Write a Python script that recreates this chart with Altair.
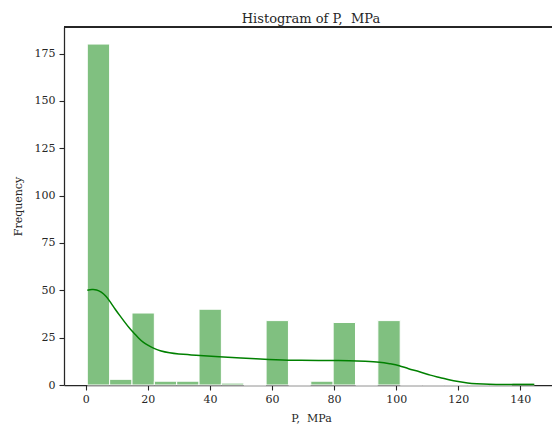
import altair as alt
import pandas as pd

# Histogram bins (P, MPa) and counts
bin_start = [0.5, 7.7, 14.9, 22.1, 29.3, 36.5, 43.7, 50.9, 58.1, 65.3,
             72.5, 79.7, 86.9, 94.1, 101.3, 108.5, 115.7, 122.9, 130.1, 137.3]
bin_end = [7.7, 14.9, 22.1, 29.3, 36.5, 43.7, 50.9, 58.1, 65.3, 72.5,
           79.7, 86.9, 94.1, 101.3, 108.5, 115.7, 122.9, 130.1, 137.3, 144.5]
counts = [180, 3, 38, 2, 2, 40, 1, 0, 34, 0,
          2, 33, 0, 34, 0, 0, 0, 0, 0, 1]

# KDE curve (scaled to counts)
kde_x = [0.5, 2, 3.5, 5, 6.5, 8, 9.5, 11, 12.5, 14, 15.5, 17, 18.5, 20, 22, 24,
         27, 30, 34, 38, 43, 50, 59, 67, 75, 80, 85, 90, 94.6, 98, 101, 104,
         107.5, 111, 114, 117, 120, 123, 126, 130, 135, 140, 144.5]
kde_y = [50, 50.4, 50.2, 49, 46.8, 43.6, 40, 36.6, 33.3, 30.2, 27.5, 24.8, 22.6,
         21, 19.3, 18.1, 17, 16.4, 15.9, 15.4, 14.9, 14.2, 13.5, 13.1, 13.0, 12.9,
         12.8, 12.5, 12.0, 11.2, 10.2, 8.6, 7.0, 5.2, 4.0, 2.8, 1.8, 1.1, 0.7, 0.4,
         0.3, 0.3, 0.3]

x_ticks = [0, 20, 40, 60, 80, 100, 120, 140]
y_ticks = [0, 25, 50, 75, 100, 125, 150, 175]

hist_df = pd.DataFrame({"start": bin_start, "end": bin_end, "count": counts})
kde_df = pd.DataFrame({"x": kde_x, "y": kde_y})

FONT = "DejaVu Serif"
INK = "#262626"
W, H = 488, 358

xscale = alt.Scale(domain=[-7, 150.2], nice=False, zero=False)
yscale = alt.Scale(domain=[0, 189], nice=False)

bars = alt.Chart(hist_df).mark_bar(
    fill="#80c080", stroke="white", strokeWidth=1
).encode(
    x=alt.X("start:Q", scale=xscale,
            axis=alt.Axis(values=x_ticks, title="P,\u00a0 MPa", grid=False,
                          titleX=247, titleY=36, titleAlign="center",
                          titleBaseline="alphabetic", labelPadding=3)),
    x2="end:Q",
    y=alt.Y("count:Q", scale=yscale,
            axis=alt.Axis(values=y_ticks, title="Frequency", grid=False,
                          titleAngle=270, titleX=-46, titleY=179,
                          titleAlign="center", titleBaseline="middle",
                          labelPadding=4)),
    y2=alt.datum(0),
)

line = alt.Chart(kde_df).mark_line(
    color="#008000", strokeWidth=1.5, interpolate="natural"
).encode(
    x=alt.X("x:Q", scale=xscale),
    y=alt.Y("y:Q", scale=yscale),
)

# top spine of the frame
top_spine = alt.Chart(hist_df).mark_rule(color=INK, strokeWidth=1.25).encode(
    x=alt.value(0), x2=alt.value(W), y=alt.value(0)
)

chart = alt.layer(bars, line, top_spine).properties(
    width=W, height=H,
    title=alt.TitleParams("Histogram of P,\u00a0 MPa", font=FONT, fontSize=13,
                          fontWeight="normal", color=INK, anchor="middle",
                          frame="group", baseline="alphabetic", offset=6,
                          dx=3, dy=16),
    autosize=alt.AutoSizeParams(type="none"),
    padding={"left": 64, "top": 27, "right": 0, "bottom": 45},
).configure_view(stroke=None).configure_axis(
    labelFont=FONT, labelFontSize=11, labelColor=INK,
    titleFont=FONT, titleFontSize=11, titleColor=INK, titleFontWeight="normal",
    domainColor=INK, domainWidth=1.25, tickColor=INK, tickWidth=1.1, tickSize=5,
    zindex=1,
)

chart.save("out.html", embed_options={"renderer": "svg", "actions": False})
